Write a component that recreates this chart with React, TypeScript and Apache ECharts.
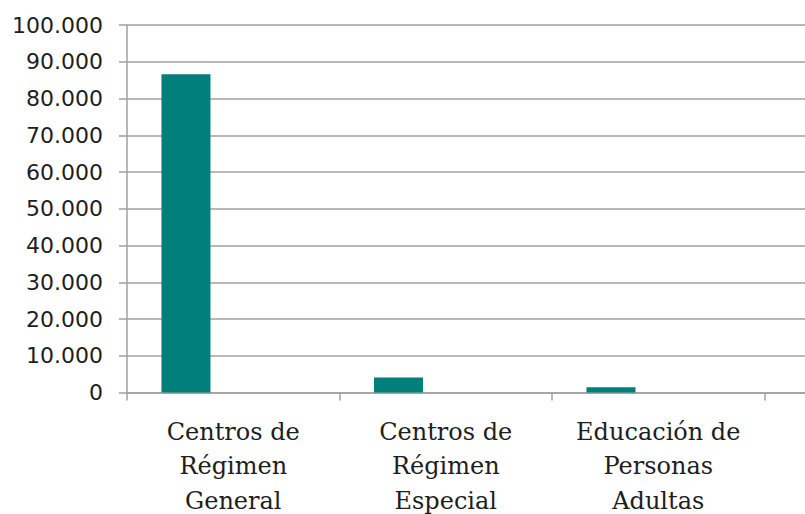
import React, { useEffect, useRef } from "react";
import * as echarts from "echarts";

const categories = [
  "Centros de\nRégimen\nGeneral",
  "Centros de\nRégimen\nEspecial",
  "Educación de\nPersonas\nAdultas",
  "",
];
const values = [86600, 4100, 1400, null];
const emptySeries = [null, null, null, null];
const yTicks = [0, 10000, 20000, 30000, 40000, 50000, 60000, 70000, 80000, 90000, 100000];

export default function App() {
  const ref = useRef<HTMLDivElement>(null);
  useEffect(() => {
    if (!ref.current) return;
    const chart = echarts.init(ref.current, null, { renderer: "svg" });
    chart.setOption({
      animation: false,
      grid: {
        left: 127,
        top: 25,
        bottom: 121.5,
        right: -172,
        containLabel: false,
        outerBoundsMode: "none",
      },
      xAxis: {
        type: "category",
        data: categories,
        axisLine: { show: true, lineStyle: { color: "#a0a0a0", width: 1.5 } },
        axisTick: { show: true, length: 8, lineStyle: { color: "#a0a0a0", width: 1.5 } },
        axisLabel: {
          interval: 0,
          margin: 22,
          fontFamily: "DejaVu Serif",
          fontSize: 24,
          lineHeight: 34.5,
          color: "#1e1e1e",
        },
      },
      yAxis: {
        type: "value",
        min: yTicks[0],
        max: yTicks[yTicks.length - 1],
        interval: 10000,
        axisLine: { show: true, lineStyle: { color: "#a0a0a0", width: 1.5 } },
        axisTick: { show: true, length: 8, lineStyle: { color: "#a0a0a0", width: 1.5 } },
        splitLine: { show: true, lineStyle: { color: "#a0a0a0", width: 1.5 } },
        axisLabel: {
          margin: 24,
          fontFamily: "DejaVu Sans",
          fontSize: 22,
          color: "#1e1e1e",
          formatter: (v: number) =>
            v === 0 ? "0" : v.toString().replace(/\B(?=(\d{3})+(?!\d))/g, "."),
        },
      },
      series: [
        {
          type: "bar",
          data: values,
          barWidth: 49,
          barGap: "93%",
          itemStyle: { color: "#007f7b" },
        },
        {
          type: "bar",
          data: emptySeries,
          barWidth: 49,
          itemStyle: { color: "#7f7f7f" },
        },
      ],
    });
    return () => chart.dispose();
  }, []);
  return (
    <div
      ref={ref}
      style={{ position: "fixed", left: 0, top: 0, width: 805, height: 514, background: "#fff" }}
    />
  );
}
